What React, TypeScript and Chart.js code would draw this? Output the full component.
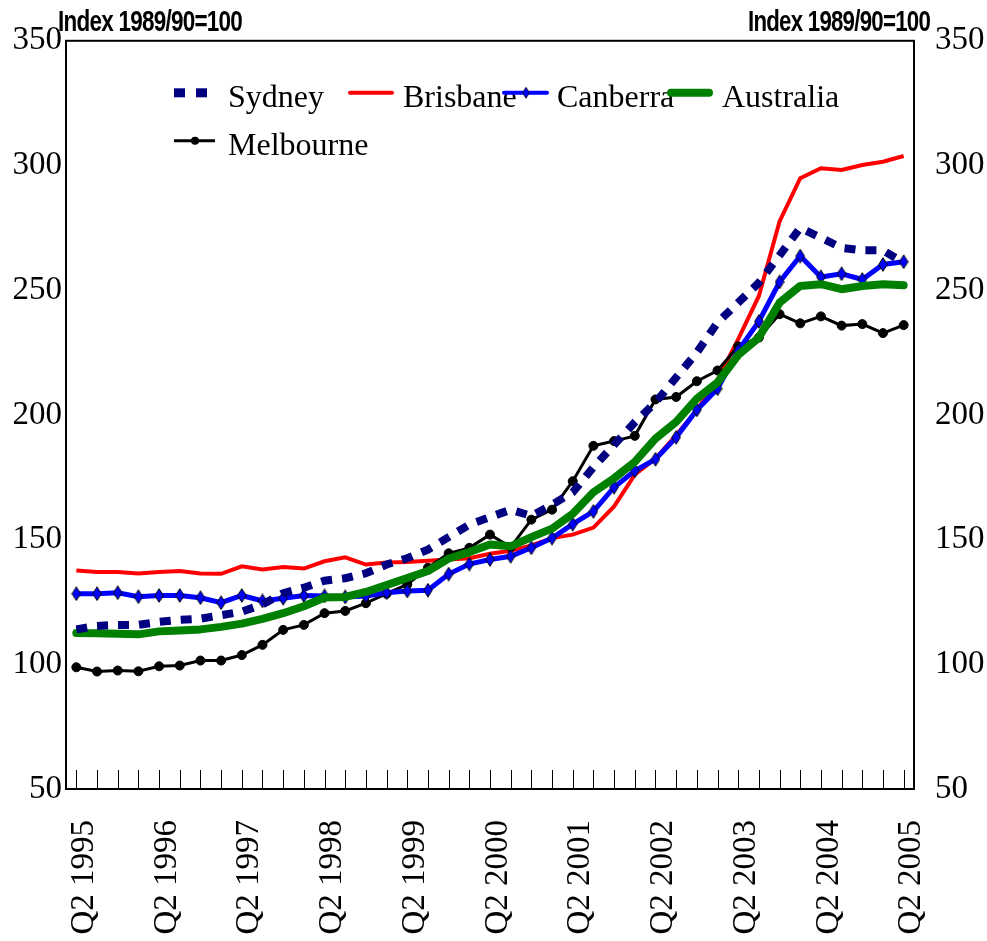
import React, { useEffect, useRef } from 'react';
import { Chart, registerables } from 'chart.js';

Chart.register(...registerables);

const categories = [
  'Q2 1995', 'Q3 1995', 'Q4 1995', 'Q1 1996',
  'Q2 1996', 'Q3 1996', 'Q4 1996', 'Q1 1997',
  'Q2 1997', 'Q3 1997', 'Q4 1997', 'Q1 1998',
  'Q2 1998', 'Q3 1998', 'Q4 1998', 'Q1 1999',
  'Q2 1999', 'Q3 1999', 'Q4 1999', 'Q1 2000',
  'Q2 2000', 'Q3 2000', 'Q4 2000', 'Q1 2001',
  'Q2 2001', 'Q3 2001', 'Q4 2001', 'Q1 2002',
  'Q2 2002', 'Q3 2002', 'Q4 2002', 'Q1 2003',
  'Q2 2003', 'Q3 2003', 'Q4 2003', 'Q1 2004',
  'Q2 2004', 'Q3 2004', 'Q4 2004', 'Q1 2005',
  'Q2 2005',
];

const tickLabels = [
  'Q2 1995', 'Q2 1996', 'Q2 1997', 'Q2 1998', 'Q2 1999', 'Q2 2000',
  'Q2 2001', 'Q2 2002', 'Q2 2003', 'Q2 2004', 'Q2 2005',
];

const sydney = [
  114, 115.4, 115.8, 115.8, 117, 117.8, 118.3, 119.7, 121.1, 124,
  128.5, 130.7, 133.5, 134.5, 136.5, 140, 142.5, 146, 151, 156,
  159, 162, 159.5, 164, 169, 179, 188, 197, 205, 215,
  225, 237, 245, 253, 264, 275, 271, 267, 266, 266,
  261,
];

const brisbane = [
  137.6, 137, 137, 136.4, 137, 137.4, 136.4, 136.3, 139.3, 138,
  139, 138.4, 141.3, 142.9, 140, 140.8, 141, 141.5, 142, 142.5,
  144.3, 145.5, 147.7, 150.6, 152, 154.8, 163.3, 176, 182.5, 191.9,
  201.9, 214, 230.4, 247.7, 277.6, 294.9, 298.9, 298.2, 300.2, 301.5,
  303.8,
];

const canberra = [
  128.3, 128.3, 128.7, 127.1, 127.6, 127.6, 126.7, 124.7, 127.6, 125.4,
  126.5, 127.6, 127.4, 127, 127.4, 128.7, 129.4, 129.7, 136.2, 140.2,
  142, 143.3, 146.7, 150.6, 156.2, 161.3, 171, 177.6, 182.2, 191,
  202, 210.5, 225.8, 237.5, 253.3, 263.7, 255.3, 256.6, 254.3, 260.3,
  261.4,
];

const australia = [
  112.5, 112.4, 112.2, 112, 113.2, 113.6, 114, 115, 116.3, 118.2,
  120.5, 123.3, 126.8, 127, 129, 131.8, 134.6, 137.4, 142.4, 145,
  148, 147.3, 151, 154.4, 160.4, 169, 174.6, 181.2, 190.5, 197.2,
  206.5, 213, 224, 231, 245, 251.7, 252.4, 250.4, 251.7, 252.4,
  252,
];

const melbourne = [
  98.8, 97.1, 97.5, 97.2, 99.2, 99.5, 101.5, 101.5, 103.7, 107.8,
  113.8, 115.8, 120.5, 121.4, 124.5, 128.3, 132, 138.7, 144.5, 146.7,
  152, 147, 158, 162, 173.4, 187.6, 189.5, 191.6, 206.2, 207.2,
  213.5, 217.8, 227.5, 231, 240.4, 236.7, 239.5, 235.8, 236.4, 232.8,
  236,
];

const seriesNames = ['Sydney', 'Brisbane', 'Canberra', 'Australia', 'Melbourne'];
const axisTitle = 'Index 1989/90=100';

const SERIF = '"Liberation Serif", "Times New Roman", serif';
const SANS = '"Liberation Sans", Arial, sans-serif';

function makeDiamond(): HTMLCanvasElement {
  const c = document.createElement('canvas');
  c.width = 10;
  c.height = 15;
  const ctx = c.getContext('2d')!;
  ctx.beginPath();
  ctx.moveTo(5, 0.7);
  ctx.lineTo(9.3, 7.5);
  ctx.lineTo(5, 14.3);
  ctx.lineTo(0.7, 7.5);
  ctx.closePath();
  ctx.fillStyle = '#0000ff';
  ctx.fill();
  ctx.strokeStyle = '#000000';
  ctx.lineWidth = 1;
  ctx.stroke();
  return c;
}

// legend layout: offset from chart-area left, and row
const legendSlots = [
  { dx: 108, row: 0 },
  { dx: 283, row: 0 },
  { dx: 437, row: 0 },
  { dx: 602, row: 0 },
  { dx: 108, row: 1 },
];

function drawMarker(ctx: CanvasRenderingContext2D, idx: number, x: number, y: number, diamond: HTMLCanvasElement) {
  ctx.save();
  if (idx === 0) {
    ctx.fillStyle = '#000080';
    ctx.fillRect(x, y - 4.5, 11, 9);
    ctx.fillRect(x + 22, y - 4.5, 11, 9);
  } else if (idx === 1) {
    ctx.strokeStyle = '#ff0000';
    ctx.lineWidth = 4;
    ctx.lineCap = 'round';
    ctx.beginPath();
    ctx.moveTo(x + 1, y);
    ctx.lineTo(x + 43, y);
    ctx.stroke();
  } else if (idx === 2) {
    ctx.strokeStyle = '#0000ff';
    ctx.lineWidth = 4;
    ctx.lineCap = 'round';
    ctx.beginPath();
    ctx.moveTo(x + 1, y);
    ctx.lineTo(x + 44, y);
    ctx.stroke();
    ctx.drawImage(diamond, x + 23 - 4, y - 6, 8, 12);
  } else if (idx === 3) {
    ctx.strokeStyle = '#008000';
    ctx.lineWidth = 8;
    ctx.lineCap = 'round';
    ctx.beginPath();
    ctx.moveTo(x + 3, y);
    ctx.lineTo(x + 41, y);
    ctx.stroke();
  } else {
    ctx.strokeStyle = '#000000';
    ctx.lineWidth = 3;
    ctx.beginPath();
    ctx.moveTo(x, y);
    ctx.lineTo(x + 41, y);
    ctx.stroke();
    ctx.fillStyle = '#000000';
    ctx.beginPath();
    ctx.arc(x + 21, y, 4, 0, Math.PI * 2);
    ctx.fill();
  }
  ctx.restore();
}

function drawSqueezed(ctx: CanvasRenderingContext2D, text: string, x: number, y: number, width: number, alignRight: boolean) {
  ctx.save();
  ctx.font = `bold 30px ${SANS}`;
  (ctx as any).letterSpacing = '-1px';
  ctx.fillStyle = '#000000';
  ctx.textBaseline = 'alphabetic';
  ctx.textAlign = 'left';
  const w = ctx.measureText(text).width;
  const s = width / w;
  const left = alignRight ? x - width : x;
  ctx.translate(left, y);
  ctx.scale(s, 1);
  ctx.fillText(text, 0, 0);
  ctx.restore();
}

export default function App() {
  const canvasRef = useRef<HTMLCanvasElement | null>(null);

  useEffect(() => {
    if (!canvasRef.current) return;
    const diamond = makeDiamond();

    const decor = {
      id: 'decor',
      beforeDatasetsDraw(chart: any) {
        const { ctx, chartArea: a, scales } = chart;
        const xs = scales.x;
        ctx.save();
        ctx.strokeStyle = '#000000';
        ctx.lineWidth = 1;
        for (let i = 0; i < categories.length; i++) {
          const x = Math.round(xs.getPixelForValue(i)) + 0.5;
          ctx.beginPath();
          ctx.moveTo(x, a.bottom);
          ctx.lineTo(x, a.bottom - 19);
          ctx.stroke();
        }
        ctx.restore();
      },
      afterDraw(chart: any) {
        const { ctx, chartArea: a } = chart;
        ctx.save();
        ctx.strokeStyle = '#000000';
        ctx.lineWidth = 2;
        ctx.strokeRect(a.left, a.top, a.right - a.left, a.bottom - a.top);
        ctx.restore();

        // legend
        ctx.save();
        ctx.font = `32px ${SERIF}`;
        ctx.fillStyle = '#000000';
        ctx.textBaseline = 'alphabetic';
        ctx.textAlign = 'left';
        legendSlots.forEach((slot, idx) => {
          const x = a.left + slot.dx;
          const y = a.top + 52 + slot.row * 48;
          drawMarker(ctx, idx, x, y, diamond);
          ctx.fillText(seriesNames[idx], x + 54, y + 14);
        });
        ctx.restore();

        drawSqueezed(ctx, axisTitle, a.left - 8, a.top - 10, 184, false);
        drawSqueezed(ctx, axisTitle, a.right + 16, a.top - 10, 182, true);
      },
    };

    const tickFont = { family: SERIF, size: 33 };

    const chart = new Chart(canvasRef.current, {
      type: 'line',
      data: {
        labels: categories,
        datasets: [
          {
            label: seriesNames[0],
            data: sydney,
            borderColor: '#000080',
            backgroundColor: '#000080',
            borderWidth: 8,
            borderDash: [11, 10],
            borderCapStyle: 'butt',
            pointRadius: 0,
            tension: 0,
            order: 0,
          },
          {
            label: seriesNames[1],
            data: brisbane,
            borderColor: '#ff0000',
            backgroundColor: '#ff0000',
            borderWidth: 4,
            pointRadius: 0,
            tension: 0,
            order: 4,
          },
          {
            label: seriesNames[2],
            data: canberra,
            borderColor: '#0000ff',
            backgroundColor: '#0000ff',
            borderWidth: 5,
            pointStyle: diamond,
            pointRadius: 6,
            tension: 0,
            order: 2,
          },
          {
            label: seriesNames[3],
            data: australia,
            borderColor: '#008000',
            backgroundColor: '#008000',
            borderWidth: 8,
            borderJoinStyle: 'round',
            borderCapStyle: 'round',
            pointRadius: 0,
            tension: 0,
            order: 1,
          },
          {
            label: seriesNames[4],
            data: melbourne,
            borderColor: '#000000',
            backgroundColor: '#000000',
            borderWidth: 3,
            pointStyle: 'circle',
            pointRadius: 4.5,
            pointBorderWidth: 1,
            tension: 0,
            order: 3,
          },
        ],
      },
      options: {
        responsive: false,
        animation: false,
        layout: { padding: { top: 37, left: 0, right: 0, bottom: 0 } },
        plugins: {
          legend: { display: false },
          tooltip: { enabled: false },
        },
        scales: {
          x: {
            type: 'category',
            offset: true,
            grid: { display: false, drawTicks: false },
            border: { display: false },
            ticks: {
              autoSkip: false,
              maxRotation: 90,
              minRotation: 90,
              padding: 31,
              labelOffset: 8,
              color: '#000000',
              font: tickFont,
              callback: (_v: any, i: number) => (tickLabels.includes(categories[i]) ? categories[i] : ''),
            },
            afterFit: (s: any) => {
              s.height = 152;
            },
          },
          y: {
            position: 'left',
            min: 50,
            max: 350,
            grid: { display: false, drawTicks: false },
            border: { display: false },
            ticks: { stepSize: 50, padding: 4, color: '#000000', font: tickFont },
            afterFit: (s: any) => {
              s.width = 66;
            },
          },
          y2: {
            position: 'right',
            min: 50,
            max: 350,
            grid: { display: false, drawTicks: false },
            border: { display: false },
            ticks: { stepSize: 50, padding: 21, color: '#000000', font: tickFont },
            afterFit: (s: any) => {
              s.width = 73;
            },
          },
        },
      },
      plugins: [decor],
    } as any);

    return () => chart.destroy();
  }, []);

  return (
    <div style={{ position: 'absolute', left: 0, top: 0, width: 987, height: 941, background: '#ffffff' }}>
      <canvas ref={canvasRef} width={987} height={941} style={{ display: 'block' }} />
    </div>
  );
}
